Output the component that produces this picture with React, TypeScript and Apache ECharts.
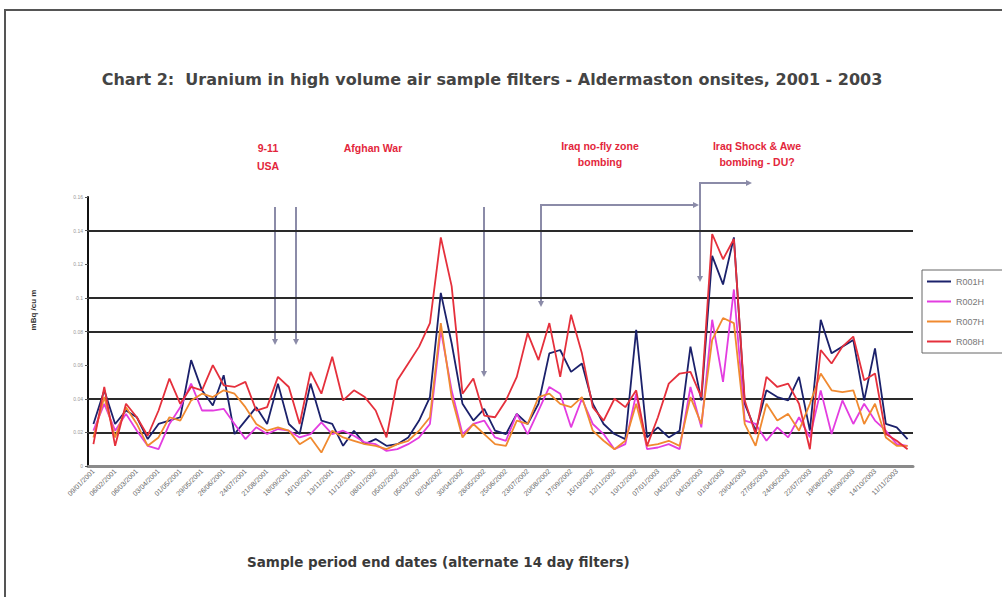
import React, { useEffect, useRef } from "react";
import * as echarts from "echarts";

const categories = [
  "09/01/2001","23/01/2001","06/02/2001","20/02/2001","06/03/2001","20/03/2001","03/04/2001","17/04/2001",
  "01/05/2001","15/05/2001","29/05/2001","12/06/2001","26/06/2001","10/07/2001","24/07/2001","07/08/2001",
  "21/08/2001","04/09/2001","18/09/2001","02/10/2001","16/10/2001","30/10/2001","13/11/2001","27/11/2001",
  "11/12/2001","25/12/2001","08/01/2002","22/01/2002","05/02/2002","19/02/2002","05/03/2002","19/03/2002",
  "02/04/2002","16/04/2002","30/04/2002","14/05/2002","28/05/2002","11/06/2002","25/06/2002","09/07/2002",
  "23/07/2002","06/08/2002","20/08/2002","03/09/2002","17/09/2002","01/10/2002","15/10/2002","29/10/2002",
  "12/11/2002","26/11/2002","10/12/2002","24/12/2002","07/01/2003","21/01/2003","04/02/2003","18/02/2003",
  "04/03/2003","18/03/2003","01/04/2003","15/04/2003","29/04/2003","13/05/2003","27/05/2003","10/06/2003",
  "24/06/2003","08/07/2003","22/07/2003","05/08/2003","19/08/2003","02/09/2003","16/09/2003","30/09/2003",
  "14/10/2003","28/10/2003","11/11/2003","25/11/2003"
];

const r001h = [
  0.025,0.045,0.025,0.033,0.029,0.016,0.025,0.027,0.029,0.063,0.045,0.036,0.054,0.019,0.027,0.035,
  0.025,0.049,0.025,0.019,0.049,0.027,0.025,0.012,0.021,0.013,0.016,0.012,0.013,0.017,0.027,0.041,
  0.103,0.073,0.037,0.027,0.034,0.021,0.019,0.031,0.025,0.037,0.067,0.069,0.056,0.061,0.037,0.025,
  0.019,0.016,0.081,0.017,0.023,0.017,0.021,0.071,0.039,0.125,0.108,0.136,0.037,0.021,0.045,0.041,
  0.039,0.053,0.021,0.087,0.067,0.071,0.075,0.039,0.070,0.025,0.023,0.016
];
const r002h = [
  0.021,0.037,0.021,0.031,0.021,0.012,0.010,0.025,0.035,0.049,0.033,0.033,0.034,0.025,0.016,0.023,
  0.019,0.022,0.021,0.017,0.019,0.026,0.019,0.021,0.018,0.014,0.013,0.009,0.010,0.013,0.017,0.025,
  0.081,0.045,0.019,0.025,0.027,0.017,0.015,0.031,0.019,0.033,0.047,0.043,0.023,0.040,0.025,0.019,
  0.010,0.013,0.043,0.010,0.011,0.013,0.010,0.047,0.023,0.087,0.050,0.105,0.027,0.025,0.015,0.023,
  0.017,0.029,0.017,0.045,0.019,0.039,0.025,0.037,0.027,0.021,0.013,0.012
];
const r007h = [
  0.017,0.041,0.017,0.035,0.025,0.012,0.017,0.029,0.027,0.039,0.043,0.041,0.045,0.043,0.035,0.025,
  0.021,0.023,0.021,0.013,0.017,0.008,0.021,0.017,0.015,0.013,0.012,0.010,0.013,0.015,0.021,0.029,
  0.085,0.041,0.017,0.025,0.019,0.013,0.012,0.027,0.025,0.041,0.043,0.037,0.035,0.041,0.021,0.015,
  0.010,0.015,0.037,0.012,0.013,0.015,0.012,0.041,0.025,0.075,0.088,0.085,0.025,0.012,0.037,0.027,
  0.031,0.021,0.037,0.055,0.045,0.044,0.045,0.025,0.037,0.017,0.012,0.012
];
const r008h = [
  0.013,0.047,0.012,0.037,0.029,0.018,0.033,0.052,0.037,0.047,0.045,0.060,0.048,0.047,0.050,0.033,
  0.035,0.053,0.047,0.025,0.056,0.043,0.065,0.039,0.045,0.041,0.033,0.017,0.051,0.061,0.071,0.085,
  0.136,0.107,0.043,0.052,0.030,0.029,0.039,0.053,0.079,0.063,0.085,0.053,0.090,0.067,0.035,0.027,
  0.040,0.035,0.045,0.012,0.029,0.049,0.055,0.056,0.041,0.138,0.123,0.135,0.039,0.019,0.053,0.047,
  0.049,0.037,0.010,0.069,0.061,0.071,0.077,0.051,0.055,0.019,0.015,0.010
];

const seriesNames = ["R001H", "R002H", "R007H", "R008H"];
const seriesColors = ["#1b216b", "#e33de0", "#f08a30", "#e5303c"];
const refLines = [0.02, 0.04, 0.08, 0.1, 0.14];

const ARROW = "#8b8ba8";
const RED = "#e3263b";

function arrowHead(x: number, y: number, dir: "down" | "right") {
  const pts =
    dir === "down"
      ? [[x - 3, y - 6], [x + 3, y - 6], [x, y]]
      : [[x - 6, y - 3], [x - 6, y + 3], [x, y]];
  return { type: "polygon", shape: { points: pts }, style: { fill: ARROW }, silent: true };
}
function seg(pts: number[][]) {
  return {
    type: "polyline",
    shape: { points: pts },
    style: { stroke: ARROW, lineWidth: 2, fill: "none" },
    silent: true,
  };
}
function redText(text: string, x: number, y: number) {
  return {
    type: "text",
    x,
    y,
    style: {
      text,
      fill: RED,
      font: 'bold 10.5px "Liberation Sans", Arial, sans-serif',
      align: "center",
      verticalAlign: "middle",
    },
    silent: true,
  };
}

export default function App() {
  const ref = useRef<HTMLDivElement>(null);
  useEffect(() => {
    document.body.style.margin = "0";
    if (!ref.current) return;
    const chart = echarts.init(ref.current, undefined, { renderer: "svg" });
    const data = [r001h, r002h, r007h, r008h];
    chart.setOption({
      animation: false,
      backgroundColor: "#ffffff",
      grid: { left: 88, right: 89, top: 197, bottom: 131, containLabel: false },
      legend: {
        orient: "vertical",
        left: 922,
        top: 270,
        data: seriesNames,
        icon: "rect",
        itemWidth: 24,
        itemHeight: 2,
        itemGap: 11,
        padding: [7, 40, 7, 5],
        borderColor: "#666",
        borderWidth: 1,
        textStyle: { fontSize: 9, color: "#777", fontFamily: "Liberation Sans" },
      },
      xAxis: {
        type: "category",
        data: categories,
        boundaryGap: true,
        axisLine: { lineStyle: { color: "#8a8a8a", width: 3 } },
        axisTick: { interval: 1, length: 3, lineStyle: { color: "#888" } },
        axisLabel: {
          interval: 1,
          rotate: 45,
          fontSize: 7,
          color: "#666",
          margin: 4,
          fontFamily: "Liberation Sans",
        },
        splitLine: { show: false },
      },
      yAxis: {
        type: "value",
        min: 0,
        max: 0.16,
        interval: 0.02,
        axisLine: { show: true, lineStyle: { color: "#111", width: 2 } },
        axisTick: { show: true, length: 3, lineStyle: { color: "#555" } },
        axisLabel: { fontSize: 5, color: "#999", margin: 5 },
        splitLine: { show: false },
      },
      series: data.map((d, i) => ({
        name: seriesNames[i],
        type: "line",
        data: d,
        symbol: "none",
        lineStyle: { color: seriesColors[i], width: 1.8 },
        itemStyle: { color: seriesColors[i] },
        z: 3 + i,
        markLine:
          i === 0
            ? {
                silent: true,
                symbol: "none",
                label: { show: false },
                lineStyle: { color: "#2a2a2a", width: 2, type: "solid" },
                data: refLines.map((v) => ({ yAxis: v })),
                z: 1,
              }
            : undefined,
      })),
      graphic: [
        {
          type: "rect",
          shape: { x: 5, y: 10, width: 1010, height: 600 },
          style: { fill: "none", stroke: "#555", lineWidth: 2 },
          silent: true,
        },
        {
          type: "text",
          x: 492,
          y: 79,
          style: {
            text: "Chart 2:  Uranium in high volume air sample filters - Aldermaston onsites, 2001 - 2003",
            fill: "#444",
            font: 'bold 16px "DejaVu Sans", sans-serif',
            align: "center",
            verticalAlign: "middle",
          },
          silent: true,
        },
        redText("9-11", 268, 148),
        redText("USA", 268, 166),
        redText("Afghan War", 373, 148),
        redText("Iraq no-fly zone", 600, 146),
        redText("bombing", 600, 162),
        redText("Iraq Shock & Awe", 757, 146),
        redText("bombing - DU?", 757, 162),
        seg([[275, 207], [275, 340]]),
        arrowHead(275, 345, "down"),
        seg([[296, 207], [296, 340]]),
        arrowHead(296, 345, "down"),
        seg([[484, 207], [484, 372]]),
        arrowHead(484, 377, "down"),
        seg([[541, 302], [541, 205], [694, 205]]),
        arrowHead(541, 307, "down"),
        arrowHead(699, 205, "right"),
        seg([[700, 277], [700, 183], [747, 183]]),
        arrowHead(700, 282, "down"),
        arrowHead(752, 183, "right"),
        {
          type: "text",
          x: 33,
          y: 310,
          rotation: Math.PI / 2,
          style: {
            text: "mBq /cu m",
            fill: "#333",
            font: 'bold 8px "Liberation Sans", Arial, sans-serif',
            align: "center",
            verticalAlign: "middle",
          },
          silent: true,
        },
        {
          type: "text",
          x: 247,
          y: 562,
          style: {
            text: "Sample period end dates (alternate 14 day filters)",
            fill: "#3a3a3a",
            font: 'bold 13.5px "DejaVu Sans", sans-serif',
            align: "left",
            verticalAlign: "middle",
          },
          silent: true,
        },
      ],
    });
    return () => chart.dispose();
  }, []);
  return <div ref={ref} style={{ width: 1002, height: 597 }} />;
}
